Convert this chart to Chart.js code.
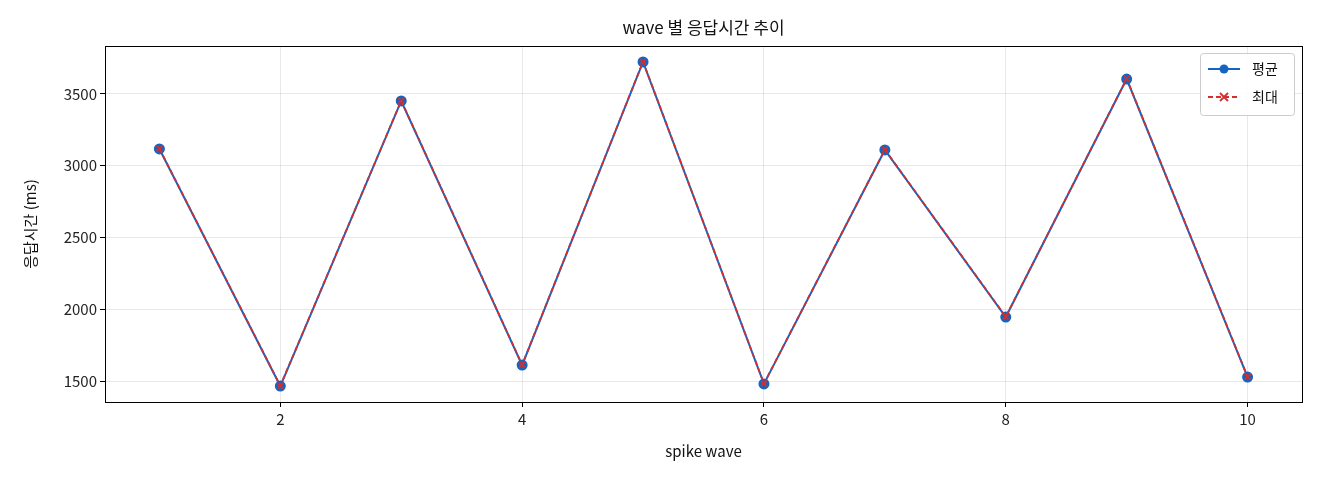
<!DOCTYPE html>
<html><head><meta charset="utf-8">
<script src="https://cdn.jsdelivr.net/npm/chart.js@4"></script>
<style>html,body{margin:0;background:#fff}#w{width:1320px;height:480px}</style>
</head><body><div id="w"><canvas id="c"></canvas></div>
<script>
const waves=[1,2,3,4,5,6,7,8,9,10];
const avgVals=[3117,1465,3451,1611,3723,1480,3110,1946,3604,1528];
const maxVals=[3119,1467,3453,1613,3725,1482,3112,1948,3606,1530];
const F='"Noto Sans CJK KR","Noto Sans",sans-serif';
Chart.defaults.font.family=F;Chart.defaults.color='#222';
const deco={id:'deco',afterDraw(ch){const c=ch.ctx,a=ch.chartArea;c.save();
c.strokeStyle='#000';c.lineWidth=1;c.strokeRect(a.left+.5,a.top+.5,a.right-a.left,a.bottom-a.top);
c.fillStyle='#111';c.textAlign='center';c.textBaseline='middle';
c.font='17px '+F;c.fillText('wave 별 응답시간 추이',(a.left+a.right)/2,28);
c.font='15px '+F;c.fillText('spike wave',(a.left+a.right)/2,451);
c.translate(30,(a.top+a.bottom)/2);c.rotate(-Math.PI/2);c.fillText('응답시간 (ms)',0,0);c.restore();
c.save();const x0=a.right-102,y0=a.top+7,w=94,h=62;
c.fillStyle='rgba(255,255,255,0.9)';c.strokeStyle='#ccc';c.beginPath();c.roundRect(x0+.5,y0+.5,w,h,3);c.fill();c.stroke();
ch.data.datasets.forEach((d,i)=>{const y=y0+16+i*28;c.strokeStyle=d.borderColor;c.lineWidth=2;c.setLineDash(d.borderDash||[]);
c.beginPath();c.moveTo(x0+8,y);c.lineTo(x0+40,y);c.stroke();c.setLineDash([]);
if(i===0){c.fillStyle=d.borderColor;c.beginPath();c.arc(x0+24,y,4.5,0,7);c.fill();}
else{c.lineWidth=1.8;c.beginPath();c.moveTo(x0+20,y-4);c.lineTo(x0+28,y+4);c.moveTo(x0+28,y-4);c.lineTo(x0+20,y+4);c.stroke();}
c.fillStyle='#111';c.font='14px '+F;c.textAlign='left';c.textBaseline='middle';c.fillText(d.label,x0+52,y);});
c.restore();}};
new Chart(document.getElementById('c'),{type:'line',
data:{datasets:[
{label:'평균',order:1,data:waves.map((x,i)=>({x,y:avgVals[i]})),borderColor:'#1565c0',backgroundColor:'#1565c0',borderWidth:2,pointRadius:4.5,pointStyle:'circle'},
{label:'최대',order:0,data:waves.map((x,i)=>({x,y:maxVals[i]})),borderColor:'#d32f2f',backgroundColor:'#d32f2f',borderWidth:1.8,borderDash:[5,3],pointRadius:4,pointStyle:'crossRot',pointBorderWidth:1.8}]},
options:{responsive:true,maintainAspectRatio:false,animation:false,
layout:{padding:{left:10,right:18,top:46,bottom:10}},
plugins:{legend:{display:false},title:{display:false},tooltip:{enabled:false}},
scales:{
x:{type:'linear',min:0.55,max:10.45,afterBuildTicks(s){s.ticks=[2,4,6,8,10].map(v=>({value:v}));},
afterFit(s){s.height=68;},grid:{color:'rgba(0,0,0,0.09)',drawTicks:true,tickLength:5,tickColor:'#000'},border:{display:false},ticks:{font:{size:15},color:'#222',callback:v=>String(v)}},
y:{min:1354,max:3834,afterBuildTicks(s){s.ticks=[1500,2000,2500,3000,3500].map(v=>({value:v}));},
afterFit(s){s.width=95;},grid:{color:'rgba(0,0,0,0.09)',tickLength:5,tickColor:'#000'},border:{display:false},ticks:{font:{size:15},color:'#222',callback:v=>String(v)}}}},
plugins:[deco]});
</script></body></html>
